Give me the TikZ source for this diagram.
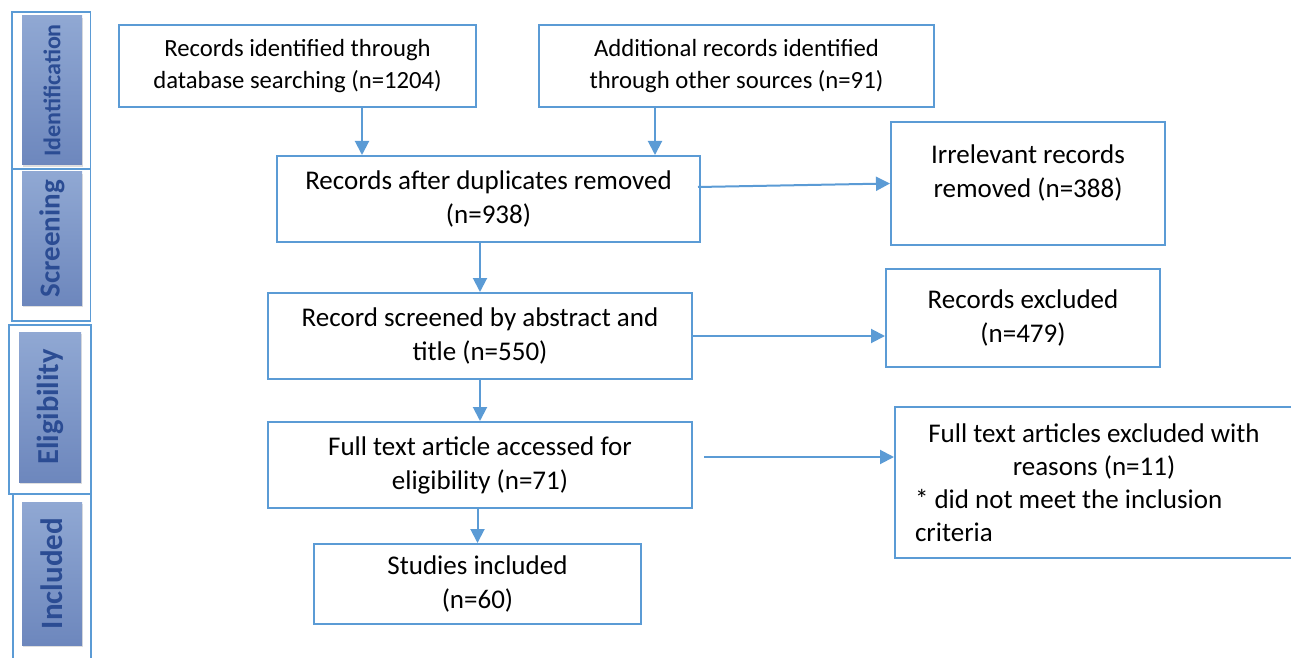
\documentclass[tikz,border=0pt]{standalone}
\usepackage{fontspec}
\setmainfont{Carlito}
\usetikzlibrary{arrows.meta,shadows}
\definecolor{lineblue}{HTML}{5B9BD5}
\definecolor{tagtop}{HTML}{90A8D3}
\definecolor{tagbot}{HTML}{6D87BD}
\definecolor{tagtext}{HTML}{2B4C93}

\begin{document}
\begin{tikzpicture}[x=1pt, y=-1pt,
  box/.style={draw=lineblue, line width=2pt, align=center, inner sep=0pt,
    font=\fontsize{27}{34}\selectfont},
  frame/.style={draw=lineblue, line width=1.6pt, inner sep=0pt},
  tag/.style={rotate=90, top color=tagtop, bottom color=tagbot, inner sep=0pt,
    minimum height=60pt, text=tagtext,
    drop shadow={opacity=0.25, shadow xshift=1pt, shadow yshift=-2pt}},
  arr/.style={color=lineblue, line width=2pt, -{Triangle[length=14pt,width=14pt]}}]
  \useasboundingbox (0,0) rectangle (1291,658);

  \node[frame, minimum width=78.5pt, minimum height=157pt] (idframe) at (51.25,90.5) {};
  \node[frame, minimum width=78.5pt, minimum height=152pt] (scrframe) at (51.25,245) {};
  \node[frame, minimum width=82pt, minimum height=169pt] (eliframe) at (50,409.5) {};
  \node[frame, minimum width=78pt, minimum height=176pt] (incframe) at (52,582) {};
  \node[tag, minimum width=149pt, font=\fontsize{24}{26}\selectfont\bfseries] (idtag) at (52,90.5) {Identification};
  \node[tag, minimum width=133pt, font=\fontsize{29}{30}\selectfont\bfseries] (scrtag) at (52,238.5) {Screening};
  \node[tag, minimum width=150pt, minimum height=62pt, font=\fontsize{30.5}{32}\selectfont\bfseries] (elitag) at (50,407) {Eligibility};
  \node[tag, minimum width=143pt, font=\fontsize{31}{32}\selectfont\bfseries] (inctag) at (52,573.5) {Included};

  \node[box, minimum width=357pt, minimum height=82pt, font=\fontsize{24.7}{32}\selectfont] (dbs) at (297.5,66.5)
    {Records identified through\\ database searching (n=1204)};
  \node[box, minimum width=395pt, minimum height=82pt, font=\fontsize{24.7}{32}\selectfont] (other) at (736.5,66.5)
    {Additional records identified\\ through other sources (n=91)};
  \node[box, minimum width=423pt, minimum height=86pt] (dup) at (488.5,199)
    {Records after duplicates removed\\ (n=938)};
  \node[box, minimum width=274pt, minimum height=123pt] (irr) at (1028,183.5)
    {Irrelevant records\\ removed (n=388)\rule[-25pt]{0pt}{1pt}};
  \node[box, minimum width=424pt, minimum height=86pt] (scr) at (480,336)
    {Record screened by abstract and\\ title (n=550)};
  \node[box, minimum width=274pt, minimum height=98pt] (excl) at (1023,318)
    {Records excluded\\ (n=479)};
  \node[box, minimum width=424pt, minimum height=86pt] (fulltext) at (480,465)
    {Full text article accessed for\\ eligibility (n=71)};
  \node[box, minimum width=398pt, minimum height=151pt, align=left,
    font=\fontsize{27}{33}\selectfont] (ftexcl) at (1094,482.5)
    {\makebox[358pt]{Full text articles excluded with}\\
     \makebox[358pt]{reasons (n=11)}\\
     {*} did not meet the inclusion\\ criteria};
  \node[box, minimum width=327pt, minimum height=80pt] (studies) at (477.5,584)
    {Studies included\\ (n=60)};

  \path[arr]
  ([xshift=64.5pt]dbs.south) edge ([xshift=64.5pt]dbs.south |- dup.north)
  ([xshift=-81.5pt]other.south) edge ([xshift=-81.5pt]other.south |- dup.north)
  ([shift={(-3pt,12pt)}]dup.east) edge (irr.west)
  (scr.north |- dup.south) edge (scr.north)
  (scr.east) edge (scr.east -| excl.west)
  (scr.south) edge (fulltext.north)
  ([shift={(11pt,8pt)}]fulltext.east) edge ([yshift=8pt]fulltext.east -| ftexcl.west)
  (studies.north |- fulltext.south) edge (studies.north);
\end{tikzpicture}
\end{document}
